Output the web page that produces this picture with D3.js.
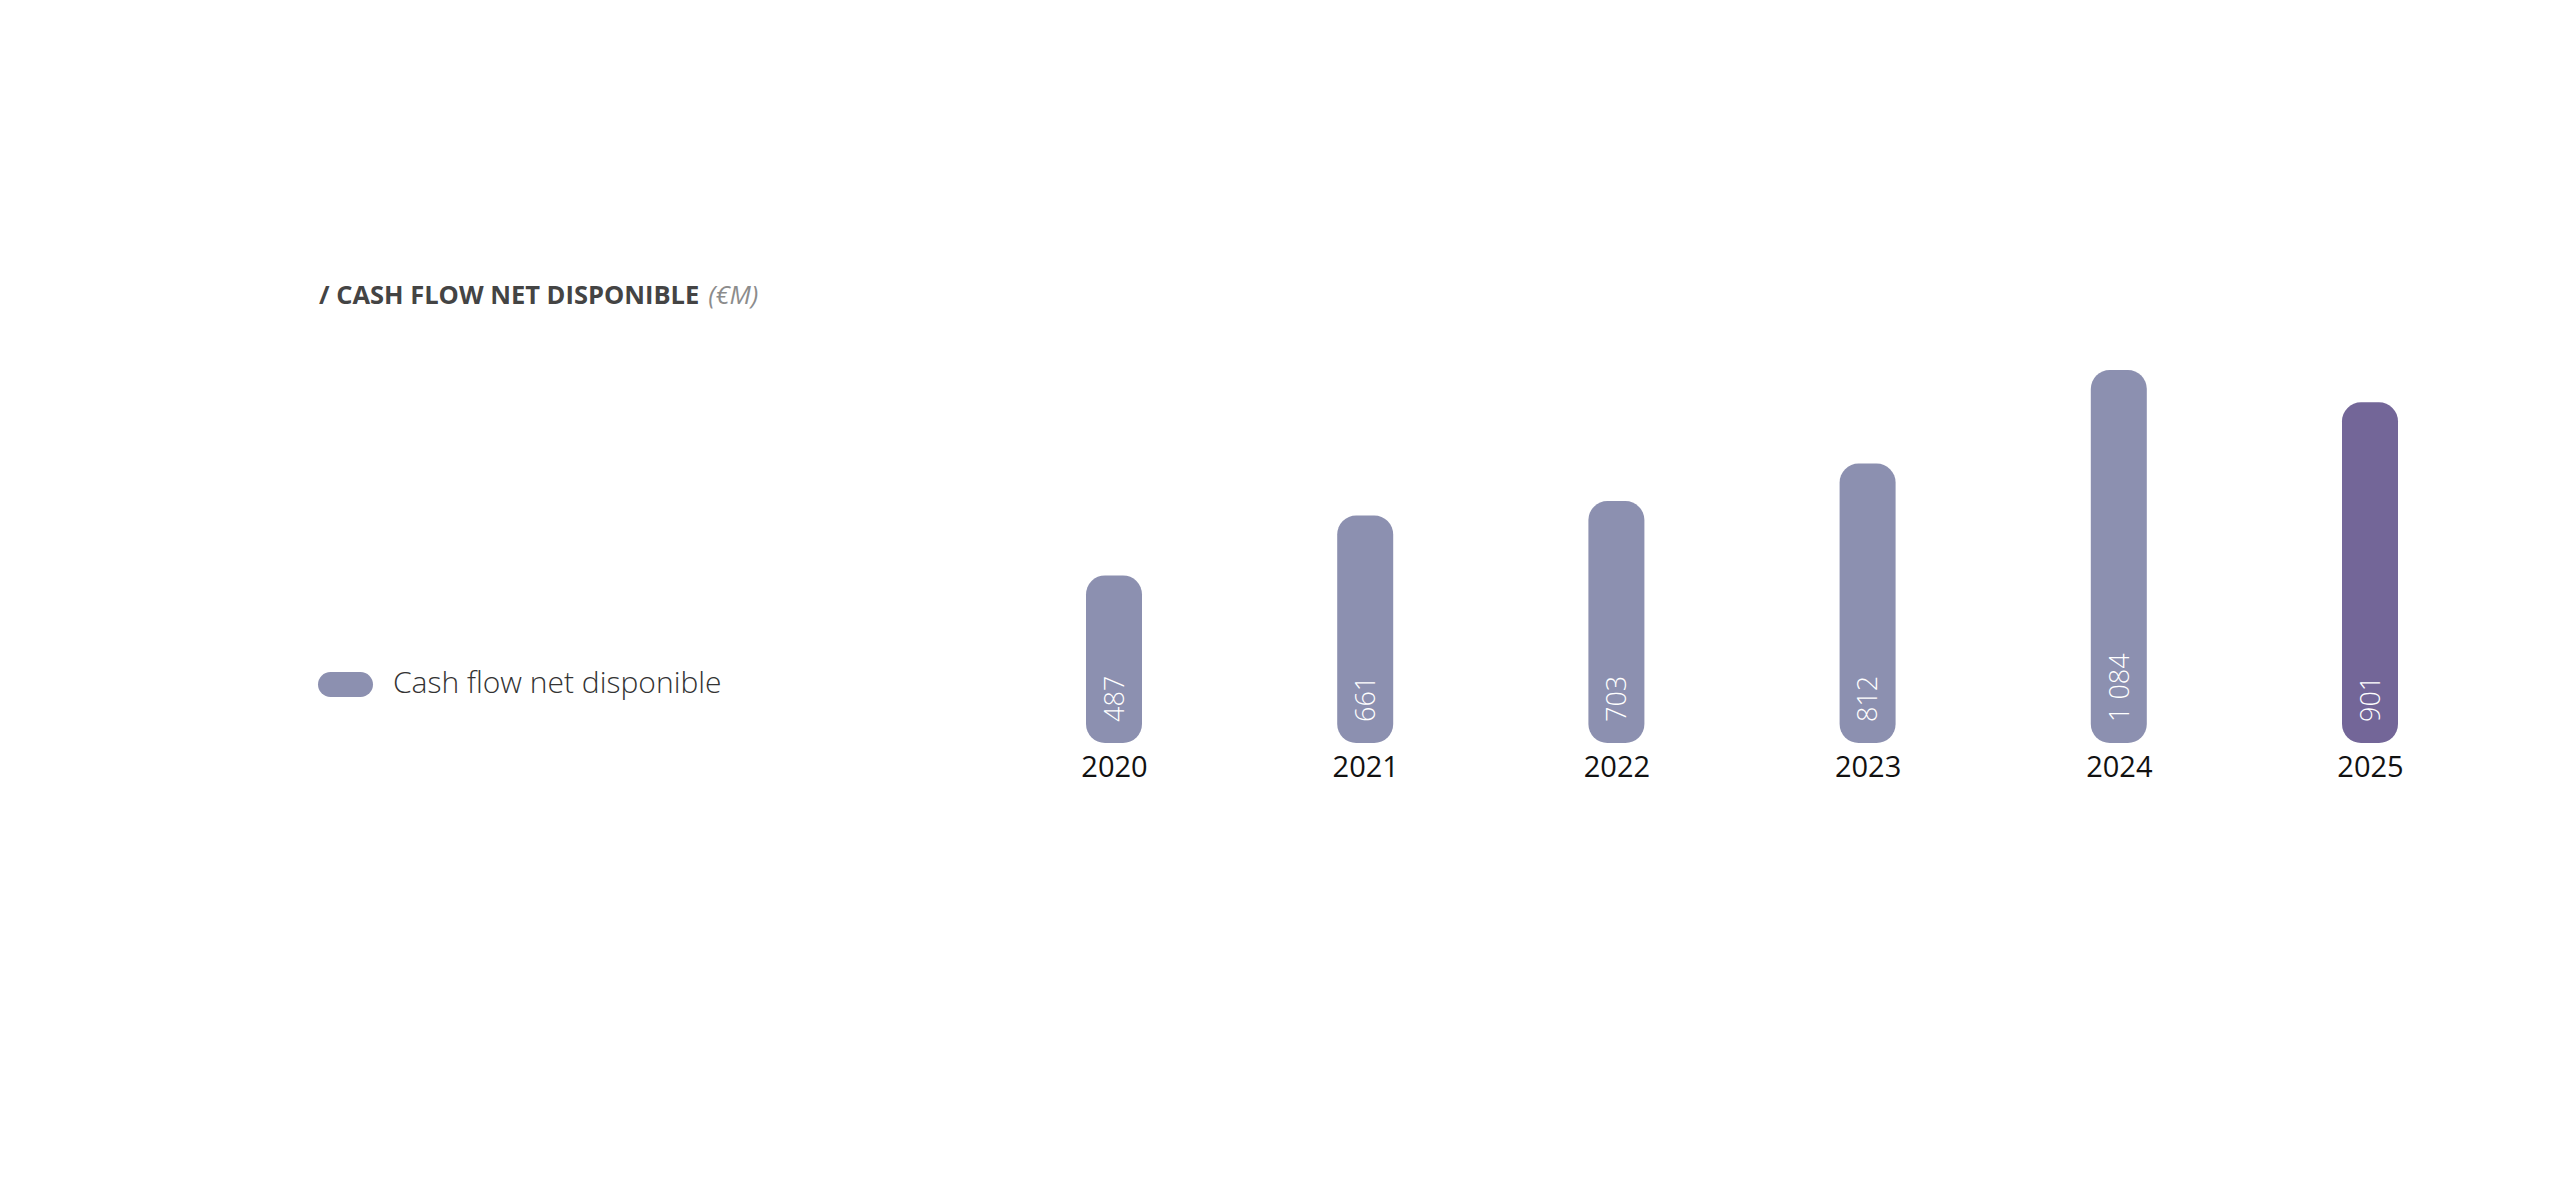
<!DOCTYPE html>
<html>
<head>
<meta charset="utf-8">
<script src="https://cdn.jsdelivr.net/npm/d3@7"></script>
<style>
  html, body { margin: 0; padding: 0; background: #ffffff; }
  svg { display: block; }
</style>
</head>
<body>
<div id="chart"></div>
<script>
// ---- data ----
const years = ["2020", "2021", "2022", "2023", "2024", "2025"];
const barValues = [487, 661, 703, 812, 1084, 990];   // bar heights as drawn
const valueLabels = ["487", "661", "703", "812", "1 084", "901"];
const highlightYears = ["2025"];
const titleMain = "/ CASH FLOW NET DISPONIBLE";
const titleUnit = "(€M)";
const legendLabel = "Cash flow net disponible";

// ---- layout ----
const W = 2561, H = 1192;
const baseColor = "#8c90b0";
const highlightColor = "#736698";
const font = "'Open Sans', 'Noto Sans', sans-serif";

const svg = d3.select("#chart").append("svg")
  .attr("width", W).attr("height", H);

const x = d3.scalePoint().domain(years).range([1114, 2370]);
const y = d3.scaleLinear().domain([0, 1084]).range([743, 370]);
const barW = 56;

// title
const title = svg.append("text")
  .attr("x", 319).attr("y", 304)
  .attr("font-family", font)
  .attr("font-size", 25.5);
title.append("tspan")
  .attr("font-weight", 700)
  .attr("fill", "#444444")
  .text(titleMain);
title.append("tspan")
  .attr("dx", 9)
  .attr("font-style", "italic")
  .attr("font-weight", 400)
  .attr("fill", "#8c8c8c")
  .text(titleUnit);

// legend
svg.append("rect")
  .attr("x", 318).attr("y", 672)
  .attr("width", 55).attr("height", 25)
  .attr("rx", 12.5).attr("ry", 12.5)
  .attr("fill", baseColor);
svg.append("text")
  .attr("x", 393).attr("y", 693)
  .attr("font-family", font)
  .attr("font-size", 30)
  .attr("font-weight", 300)
  .attr("fill", "#333333")
  .text(legendLabel);

const data = years.map((yr, i) => ({ year: yr, value: barValues[i], label: valueLabels[i] }));

// bars
svg.append("g").selectAll("rect")
  .data(data)
  .join("rect")
  .attr("x", d => x(d.year) - barW / 2)
  .attr("y", d => y(d.value))
  .attr("width", barW)
  .attr("height", d => y(0) - y(d.value))
  .attr("rx", 19).attr("ry", 19)
  .attr("fill", d => highlightYears.includes(d.year) ? highlightColor : baseColor);

// value labels (rotated)
svg.append("g").selectAll("text")
  .data(data)
  .join("text")
  .attr("transform", d => `translate(${x(d.year)},${y(0) - 21}) rotate(-90)`)
  .attr("dy", "0.36em")
  .attr("text-anchor", "start")
  .attr("font-family", font)
  .attr("font-size", 27)
  .attr("font-weight", 300)
  .attr("fill", "#ffffff")
  .text(d => d.label);

// x axis labels
const xAxis = d3.axisBottom(x).tickSize(0).tickPadding(0);
const gx = svg.append("g")
  .attr("transform", `translate(0, ${y(0)})`)
  .call(xAxis);
gx.select(".domain").remove();
gx.selectAll("text")
  .attr("y", 34)
  .attr("dy", 0)
  .attr("font-family", font)
  .attr("font-size", 29)
  .attr("font-weight", 400)
  .attr("fill", "#111111");
</script>
</body>
</html>
